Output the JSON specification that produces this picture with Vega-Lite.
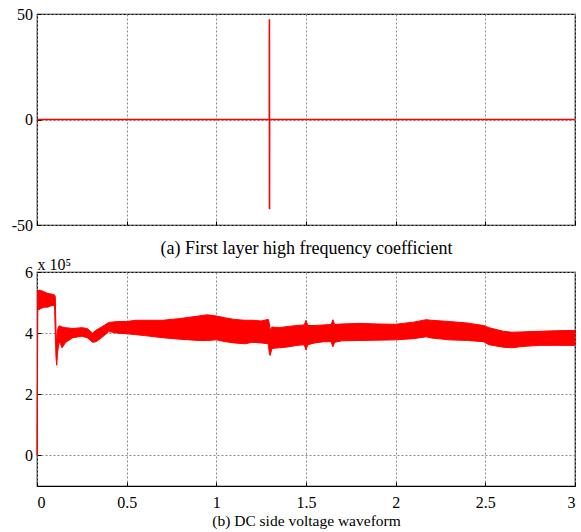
{
  "$schema": "https://vega.github.io/schema/vega-lite/v6.json",
  "padding": {"left": 10, "top": 5, "right": 4, "bottom": 2},
  "bounds": "flush",
  "spacing": 47,
  "background": "#ffffff",
  "config": {
    "font": "Liberation Serif",
    "view": {"stroke": "#000000", "strokeWidth": 1.2},
    "axis": {
      "labelFont": "Liberation Serif", "labelFontSize": 16, "labelColor": "#000000",
      "titleFont": "Liberation Serif", "titleFontSize": 15, "titleFontWeight": "normal", "titleColor": "#000000",
      "domain": false, "gridColor": "#888888", "gridDash": [2, 2], "gridWidth": 1,
      "tickColor": "#000000", "tickSize": -4, "tickWidth": 1,
      "labelExpr": "'' + datum.value"
    }
  },
  "vconcat": [
    {
      "width": 538, "height": 211,
      "data": {"values": [
        {"t": 0, "v": 0}, {"t": 1.2955, "v": 0}, {"t": 1.296, "v": 47.5}, {"t": 1.2965, "v": -42.5}, {"t": 1.297, "v": 0}, {"t": 3, "v": 0}
      ]},
      "mark": {"type": "line", "color": "#ff0000", "strokeWidth": 1.6},
      "encoding": {
        "x": {"field": "t", "type": "quantitative", "scale": {"domain": [0, 3], "nice": false},
              "axis": {"values": [0, 0.5, 1, 1.5, 2, 2.5, 3], "labels": false, "title": "(a) First layer high frequency coefficient", "titleFont": "Liberation Serif", "titleFontSize": 18, "titlePadding": 14}},
        "y": {"field": "v", "type": "quantitative", "scale": {"domain": [-50, 50], "nice": false},
              "axis": {"values": [-50, 0, 50], "title": null, "labelPadding": 8.5, "labelFont": "Liberation Serif", "labelFontSize": 16}}
      }
    },
    {
      "width": 538, "height": 214,
      "data": {"values": [
        {"t": 0.000, "hi": 0.0, "lo": 0.0},
        {"t": 0.002, "hi": 2.3, "lo": 0.0},
        {"t": 0.004, "hi": 5.4, "lo": 4.75},
        {"t": 0.02, "hi": 5.4, "lo": 4.8},
        {"t": 0.04, "hi": 5.35, "lo": 4.85},
        {"t": 0.06, "hi": 5.3, "lo": 4.85},
        {"t": 0.08, "hi": 5.28, "lo": 4.9},
        {"t": 0.098, "hi": 5.25, "lo": 4.9},
        {"t": 0.102, "hi": 5.2, "lo": 4.0},
        {"t": 0.106, "hi": 4.1, "lo": 3.2},
        {"t": 0.110, "hi": 3.6, "lo": 2.95},
        {"t": 0.114, "hi": 4.1, "lo": 3.3},
        {"t": 0.12, "hi": 4.2, "lo": 3.6},
        {"t": 0.125, "hi": 4.24, "lo": 3.72},
        {"t": 0.14, "hi": 4.2, "lo": 3.52},
        {"t": 0.16, "hi": 4.18, "lo": 3.7},
        {"t": 0.20, "hi": 4.15, "lo": 3.85},
        {"t": 0.25, "hi": 4.18, "lo": 3.9},
        {"t": 0.28, "hi": 4.15, "lo": 3.85},
        {"t": 0.30, "hi": 4.05, "lo": 3.75},
        {"t": 0.31, "hi": 4.0, "lo": 3.7},
        {"t": 0.33, "hi": 4.1, "lo": 3.72},
        {"t": 0.36, "hi": 4.2, "lo": 3.85},
        {"t": 0.40, "hi": 4.35, "lo": 4.05},
        {"t": 0.45, "hi": 4.38, "lo": 4.0},
        {"t": 0.5, "hi": 4.38, "lo": 3.98},
        {"t": 0.55, "hi": 4.42, "lo": 3.95},
        {"t": 0.6, "hi": 4.42, "lo": 3.92},
        {"t": 0.7, "hi": 4.42, "lo": 3.85},
        {"t": 0.8, "hi": 4.48, "lo": 3.8},
        {"t": 0.9, "hi": 4.56, "lo": 3.76},
        {"t": 0.95, "hi": 4.6, "lo": 3.76},
        {"t": 1.0, "hi": 4.56, "lo": 3.78},
        {"t": 1.05, "hi": 4.5, "lo": 3.72},
        {"t": 1.1, "hi": 4.45, "lo": 3.68},
        {"t": 1.16, "hi": 4.42, "lo": 3.65},
        {"t": 1.2, "hi": 4.42, "lo": 3.7},
        {"t": 1.25, "hi": 4.4, "lo": 3.68},
        {"t": 1.29, "hi": 4.45, "lo": 3.65},
        {"t": 1.296, "hi": 4.3, "lo": 3.3},
        {"t": 1.30, "hi": 4.1, "lo": 3.27},
        {"t": 1.31, "hi": 4.2, "lo": 3.5},
        {"t": 1.35, "hi": 4.18, "lo": 3.52},
        {"t": 1.40, "hi": 4.22, "lo": 3.55},
        {"t": 1.45, "hi": 4.25, "lo": 3.6},
        {"t": 1.49, "hi": 4.27, "lo": 3.62},
        {"t": 1.50, "hi": 4.42, "lo": 3.45},
        {"t": 1.51, "hi": 4.25, "lo": 3.62},
        {"t": 1.55, "hi": 4.25, "lo": 3.68},
        {"t": 1.60, "hi": 4.27, "lo": 3.72},
        {"t": 1.64, "hi": 4.28, "lo": 3.72},
        {"t": 1.65, "hi": 4.44, "lo": 3.55},
        {"t": 1.66, "hi": 4.28, "lo": 3.7},
        {"t": 1.7, "hi": 4.3, "lo": 3.75},
        {"t": 1.8, "hi": 4.32, "lo": 3.76},
        {"t": 1.9, "hi": 4.3, "lo": 3.77},
        {"t": 2.0, "hi": 4.29, "lo": 3.78},
        {"t": 2.1, "hi": 4.36, "lo": 3.82},
        {"t": 2.17, "hi": 4.44, "lo": 3.88},
        {"t": 2.2, "hi": 4.42, "lo": 3.84},
        {"t": 2.3, "hi": 4.38, "lo": 3.78},
        {"t": 2.4, "hi": 4.33, "lo": 3.76},
        {"t": 2.49, "hi": 4.25, "lo": 3.72},
        {"t": 2.52, "hi": 4.18, "lo": 3.62},
        {"t": 2.6, "hi": 4.06, "lo": 3.54},
        {"t": 2.65, "hi": 4.03, "lo": 3.52},
        {"t": 2.7, "hi": 4.04, "lo": 3.56},
        {"t": 2.8, "hi": 4.06, "lo": 3.6},
        {"t": 2.9, "hi": 4.08, "lo": 3.6},
        {"t": 3.0, "hi": 4.09, "lo": 3.6}
      ]},
      "mark": {"type": "area", "color": "#ff0000", "stroke": "#ff0000", "strokeWidth": 1, "opacity": 1},
      "encoding": {
        "x": {"field": "t", "type": "quantitative", "scale": {"domain": [0, 3], "nice": false},
              "axis": {"values": [0, 0.5, 1, 1.5, 2, 2.5, 3], "title": "(b) DC side voltage waveform", "labelPadding": 12, "titlePadding": 3, "labelFont": "Liberation Serif", "labelFontSize": 16, "titleFont": "Liberation Serif", "titleFontSize": 15.5}},
        "y": {"field": "hi", "type": "quantitative", "scale": {"domain": [-1, 6], "nice": false},
              "axis": {"values": [0, 2, 4, 6], "labelPadding": 8.5, "labelFont": "Liberation Serif", "labelFontSize": 16, "title": "x 10⁵", "titleFont": "Liberation Serif", "titleFontSize": 16, "titleAngle": 0, "titleAlign": "left", "titleBaseline": "alphabetic", "titleX": 0, "titleY": -3}},
        "y2": {"field": "lo"}
      }
    }
  ]
}
